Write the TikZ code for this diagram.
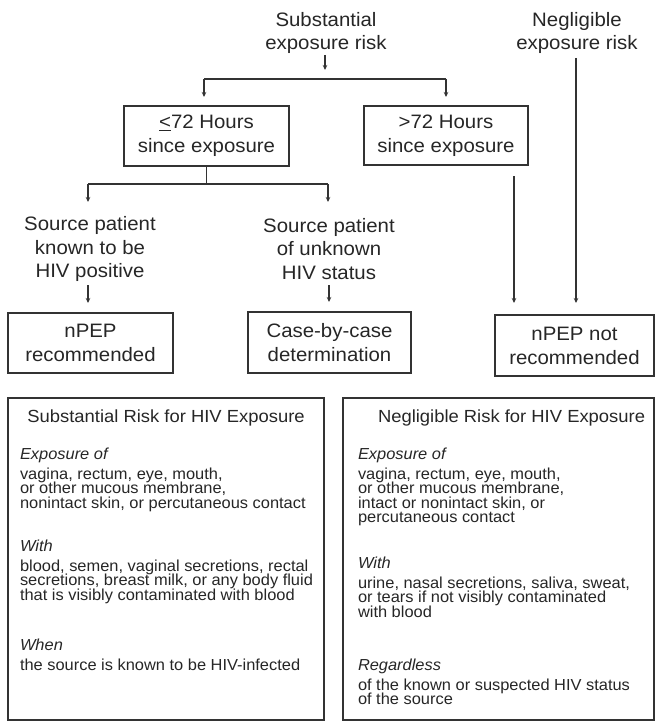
\documentclass[tikz,border=0pt]{standalone}
\usepackage{fontspec}
\setmainfont{Liberation Sans}
\newfontfamily\flowfont{Liberation Sans}[FakeStretch=1.05]
\newfontfamily\bodyfont{Liberation Sans}[FakeStretch=1.03]
\usetikzlibrary{arrows.meta}
\definecolor{ink}{HTML}{262626}
\definecolor{wire}{HTML}{333333}
\begin{document}
\begin{tikzpicture}[x=1bp,y=-1bp,
  every node/.style={text=ink, inner sep=0pt, outer sep=0pt},
  flow/.style={font=\flowfont\fontsize{19.5}{24}\selectfont, align=center},
  fbox/.style={flow, draw=wire, line width=1.2bp},
  bigbox/.style={draw=wire, line width=1.2bp},
  btitle/.style={font=\flowfont\fontsize{17.6}{20}\selectfont},
  body/.style={font=\bodyfont\fontsize{16}{15}\selectfont, anchor=base west},
  wireline/.style={draw=wire, line width=1.2bp},
  arr/.style={wireline, -{Stealth[length=5bp,width=4.5bp]}}
]
\useasboundingbox (0,0) rectangle (655,722);

% top texts
\node[flow] (subst) at (326,33) {Substantial\\exposure risk};
\node[flow] (neg) at (577,33) {Negligible\\exposure risk};

% hour boxes
\node[fbox, minimum width=165bp, minimum height=60bp] (le72) at (206.5,136) {\underline{<}72 Hours\\since exposure};
\node[fbox, minimum width=164bp, minimum height=59bp] (gt72) at (446,135.5) {>72 Hours\\since exposure};

% source texts
\node[flow] (known) at (90,249) {Source patient\\known to be\\HIV positive};
\node[flow] (unknown) at (329,249) {Source patient\\of unknown\\HIV status};

% outcome boxes
\node[fbox, minimum width=165bp, minimum height=60bp] (npep) at (90.5,343) {nPEP\\recommended};
\node[fbox, minimum width=163bp, minimum height=61bp] (casebox) at (329.5,342.5) {Case-by-case\\determination};
\node[fbox, minimum width=159bp, minimum height=61bp] (notrec) at (574.5,345.5) {nPEP not\\recommended};

% connectors, top
\coordinate (a1) at (325,55);
\coordinate (a2) at (325,70);
\draw[arr] (a1) -- (a2);
\coordinate (bL) at (204,79);
\coordinate (bR) at (446,79);
\draw[wireline] (bL) -- (bR);
\draw[arr, shorten >=9bp] (bL) -- (bL |- le72.north);
\draw[arr, shorten >=9bp] (bR) -- (bR |- gt72.north);

% connectors from le72
\coordinate (cL) at (88,184);
\coordinate (cR) at (328,184);
\coordinate (cLt) at (88,202);
\coordinate (cRt) at (328,202);
\draw[wireline] (le72.south) -- (le72.south |- cL);
\draw[wireline] (cL) -- (cR);
\draw[arr] (cL) -- (cLt);
\draw[arr] (cR) -- (cRt);

\coordinate (k1) at (88,285);
\coordinate (u1) at (329,285);
\draw[arr, shorten >=10bp] (k1) -- (k1 |- npep.north);
\draw[arr, shorten >=10bp] (u1) -- (u1 |- casebox.north);

% right-side lines
\coordinate (g1) at (514,176);
\coordinate (n1) at (576,58);
\draw[arr, shorten >=12bp] (g1) -- (g1 |- notrec.north);
\draw[arr, shorten >=12bp] (n1) -- (n1 |- notrec.north);

% bottom boxes
\node[bigbox, minimum width=316bp, minimum height=322bp] (lbox) at (166,559) {};
\node[bigbox, minimum width=311bp, minimum height=322bp] (rbox) at (498.5,559) {};

\node[btitle] (ltitle) at (166,418) {Substantial Risk for HIV Exposure};
\node[btitle, anchor=west] (rtitle) at (378,418) {Negligible Risk for HIV Exposure};

% left box body
\node[body] (l1) at (20,459.5) {\textit{Exposure of}};
\node[body] (l2) at (20,479) {vagina, rectum, eye, mouth,};
\node[body] (l3) at (20,493.5) {or other mucous membrane,};
\node[body] (l4) at (20,508) {nonintact skin, or percutaneous contact};
\node[body] (l5) at (20,551) {\textit{With}};
\node[body] (l6) at (20,571) {blood, semen, vaginal secretions, rectal};
\node[body] (l7) at (20,585.5) {secretions, breast milk, or any body fluid};
\node[body] (l8) at (20,600) {that is visibly contaminated with blood};
\node[body] (l9) at (20,650) {\textit{When}};
\node[body] (l10) at (20,670) {the source is known to be HIV-infected};

% right box body
\node[body] (r1) at (358,459.5) {\textit{Exposure of}};
\node[body] (r2) at (358,479) {vagina, rectum, eye, mouth,};
\node[body] (r3) at (358,493.5) {or other mucous membrane,};
\node[body] (r4) at (358,508) {intact or nonintact skin, or};
\node[body] (r5) at (358,522.5) {percutaneous contact};
\node[body] (r6) at (358,568) {\textit{With}};
\node[body] (r7) at (358,588) {urine, nasal secretions, saliva, sweat,};
\node[body] (r8) at (358,602.5) {or tears if not visibly contaminated};
\node[body] (r9) at (358,617) {with blood};
\node[body] (r10) at (358,670) {\textit{Regardless}};
\node[body] (r11) at (358,690) {of the known or suspected HIV status};
\node[body] (r12) at (358,704.5) {of the source};
\end{tikzpicture}
\end{document}
